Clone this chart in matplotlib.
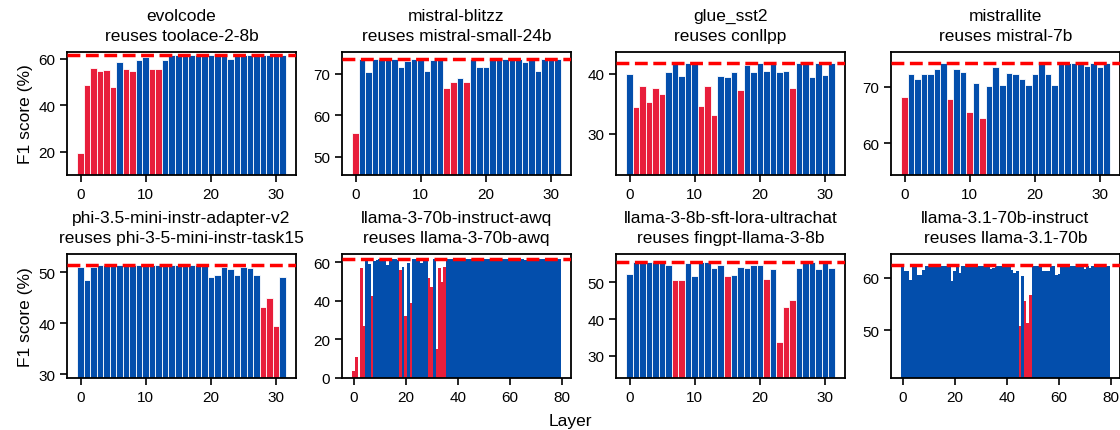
import matplotlib
matplotlib.use("Agg")
import matplotlib.pyplot as plt

plt.rcParams['font.family'] = ['Liberation Sans', 'DejaVu Sans']

# ---------------- data ----------------
titles = [
    "evolcode\nreuses toolace-2-8b",
    "mistral-blitzz\nreuses mistral-small-24b",
    "glue_sst2\nreuses conllpp",
    "mistrallite\nreuses mistral-7b",
    "phi-3.5-mini-instr-adapter-v2\nreuses phi-3-5-mini-instr-task15",
    "llama-3-70b-instruct-awq\nreuses llama-3-70b-awq",
    "llama-3-8b-sft-lora-ultrachat\nreuses fingpt-llama-3-8b",
    "llama-3.1-70b-instruct\nreuses llama-3.1-70b",
]

f1_evolcode = [19.6, 48.8, 56.1, 54.9, 55.4, 48.0, 58.8, 55.8, 54.9, 59.7, 60.9, 55.8,
               55.8, 59.7, 61.5, 61.5, 61.5, 61.5, 61.5, 61.5, 61.5, 61.5, 61.5, 60.1,
               61.5, 61.5, 61.5, 61.5, 61.5, 61.5, 61.5, 61.5]
f1_blitzz = [55.7, 73.4, 70.3, 73.4, 73.4, 73.4, 73.4, 71.5, 73.0, 73.4, 73.4, 70.7,
             73.2, 73.2, 66.6, 68.1, 69.0, 68.1, 73.4, 71.5, 71.7, 73.4, 73.4, 73.4,
             73.4, 73.4, 72.7, 73.4, 70.7, 73.4, 73.4, 73.4]
f1_sst2 = [40.0, 34.4, 37.9, 35.3, 37.7, 36.7, 40.3, 41.7, 39.7, 41.7, 41.7, 34.7,
           38.0, 33.2, 39.7, 39.5, 40.3, 37.3, 41.5, 40.3, 41.7, 40.5, 41.7, 40.3,
           40.5, 37.7, 41.7, 41.7, 39.5, 41.7, 39.8, 41.7]
f1_mistrallite = [68.1, 72.2, 71.4, 72.2, 72.2, 73.1, 74.2, 67.8, 73.1, 72.6, 65.5, 70.7,
                  64.4, 70.1, 73.5, 70.3, 72.4, 72.2, 71.4, 70.3, 72.2, 74.2, 72.2, 70.3,
                  74.2, 74.2, 74.2, 74.2, 73.7, 74.2, 73.5, 74.2]
f1_phi = [51.1, 48.5, 51.1, 51.5, 51.5, 51.5, 51.5, 51.5, 51.5, 51.5, 51.5, 51.5,
          51.5, 51.5, 51.5, 51.5, 51.5, 51.5, 51.5, 51.5, 49.1, 49.5, 51.1, 50.7,
          49.5, 51.1, 50.8, 49.5, 43.2, 45.0, 39.4, 49.1]
f1_awq = [3.4, 11.0, 0.0, 57.1, 27.2, 60.9, 59.1, 42.6, 60.9, 61.2,
          61.5, 61.5, 61.5, 58.8, 61.5, 61.7, 61.7, 61.0, 56.0, 57.6,
          32.2, 59.8, 39.0, 61.7, 61.5, 60.8, 59.8, 61.2, 60.5, 51.9,
          47.2, 61.7, 15.2, 57.1, 49.8, 57.6, 61.7, 61.7, 61.7, 61.7,
          61.7, 61.7, 61.7, 61.7, 61.7, 61.7, 61.7, 61.7, 61.7, 61.7,
          61.7, 61.7, 61.7, 61.7, 61.7, 61.7, 61.7, 61.7, 61.7, 61.7,
          61.7, 61.7, 61.7, 61.7, 61.7, 61.7, 61.3, 61.7, 61.7, 61.7,
          61.7, 61.7, 61.7, 61.7, 61.7, 61.7, 61.7, 61.7, 61.7, 61.7]
f1_ultrachat = [52.4, 55.6, 55.6, 55.6, 55.6, 55.6, 54.6, 50.7, 50.7, 55.3, 51.8, 55.6,
                55.6, 53.8, 54.6, 51.6, 52.1, 54.3, 54.0, 54.8, 54.8, 51.0, 53.5, 33.7,
                43.4, 45.3, 53.8, 55.6, 55.6, 53.5, 55.6, 53.8]
f1_llama31 = [62.3, 61.3, 61.3, 59.7, 62.3, 62.3, 60.5, 60.5, 61.6, 62.3,
              62.3, 62.3, 62.3, 62.3, 62.3, 62.3, 62.3, 62.3, 62.3, 59.4,
              61.3, 62.3, 60.9, 62.3, 62.3, 62.3, 62.3, 62.3, 62.3, 62.3,
              62.3, 62.3, 62.3, 62.3, 61.7, 62.0, 62.3, 62.3, 62.3, 62.3,
              62.3, 62.3, 61.6, 61.0, 61.3, 50.7, 60.4, 55.5, 51.4, 56.8,
              62.3, 62.3, 62.3, 62.3, 61.3, 61.3, 61.3, 62.3, 62.3, 60.5,
              60.8, 62.3, 62.3, 62.3, 62.3, 62.3, 62.3, 62.3, 62.3, 62.3,
              61.8, 62.3, 61.9, 62.3, 62.3, 62.3, 62.3, 62.3, 62.3, 62.3]

red_evolcode = [0, 1, 2, 3, 4, 5, 7, 8, 11, 12]
red_blitzz = [0, 14, 15, 17]
red_sst2 = [1, 2, 3, 4, 5, 11, 12, 13, 17, 25]
red_mistrallite = [0, 7, 10, 12]
red_phi = [28, 29, 30]
red_awq = [0, 1, 2, 3, 4, 7, 18, 20, 22, 29, 30, 32, 33, 34, 35]
red_ultrachat = [7, 8, 15, 21, 23, 24, 25]
red_llama31 = [45, 47, 48, 49]

baselines = [61.6, 73.4, 41.8, 74.2, 51.5, 61.8, 55.6, 62.5]
ylims = [(9.9, 63.0), (45.6, 75.2), (23.2, 43.6), (54.4, 76.1),
         (29.3, 53.6), (0.0, 64.3), (24.0, 57.7), (40.8, 64.6)]

series = [f1_evolcode, f1_blitzz, f1_sst2, f1_mistrallite,
          f1_phi, f1_awq, f1_ultrachat, f1_llama31]
reds = [red_evolcode, red_blitzz, red_sst2, red_mistrallite,
        red_phi, red_awq, red_ultrachat, red_llama31]

# ---------------- style ----------------
BLUE = "#034EAC"
RED = "#E81E3B"
LINE = "#FF0000"

W, H = 1120, 431
fig = plt.figure(figsize=(W / 100, H / 100), dpi=100)

lefts_px = [67, 342, 616, 891]
rows_px = [(53, 176), (255, 379)]
ax_w = 229

for i in range(8):
    row, col = divmod(i, 4)
    top, bot = rows_px[row]
    ax = fig.add_axes([lefts_px[col] / W, 1 - bot / H, ax_w / W, (bot - top) / H])
    vals = series[i]
    layers = list(range(len(vals)))
    colors = [RED if l in reds[i] else BLUE for l in layers]
    many = len(vals) > 40
    ax.bar(layers, vals, width=1.0, color=colors, edgecolor="white",
           linewidth=0.0 if many else 0.6)
    ax.axhline(baselines[i], color=LINE, linestyle="--", linewidth=2.5, zorder=5)
    ax.set_ylim(*ylims[i])
    if many:
        ax.set_xticks([0, 20, 40, 60, 80])
    else:
        ax.set_xticks([0, 10, 20, 30])
    ax.set_title(titles[i], fontsize=12.5, pad=8.5, linespacing=1.4)
    ax.tick_params(axis="both", direction="out", length=5, width=1.2, labelsize=11)
    for s in ax.spines.values():
        s.set_linewidth(1.3)
    if col == 0:
        ax.set_ylabel("F1 score (%)", fontsize=12.5)

fig.text(570 / W, 1 - 422 / H, "Layer", ha="center", va="center", fontsize=12.5)

fig.savefig("out.png", dpi=100)
